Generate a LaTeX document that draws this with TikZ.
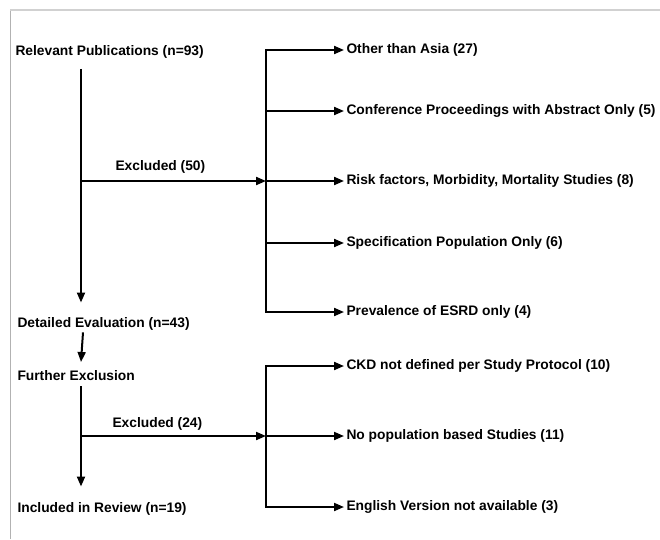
\documentclass[tikz,border=0pt]{standalone}
\usepackage{fontspec}
\setmainfont{Liberation Sans}
\usetikzlibrary{positioning,arrows.meta}

\begin{document}
\begin{tikzpicture}[x=1pt,y=-1pt,line width=2pt,>={Triangle[length=10pt,width=8pt]}]
    \tikzstyle{every node}=[inner sep=1.5,font=\fontsize{13.8}{16}\selectfont\bfseries]
    \tikzstyle{stage}=[anchor=base west]
    \tikzstyle{reason}=[anchor=west]
    \tikzstyle{frame}=[line width=1pt,black!30]
    \useasboundingbox (0,0) rectangle (660,539);
    \draw[frame] (10,539) -- (10,10);
    \draw[frame,black!18,line width=1.5pt] (10,10) -- (660,10);

    % left column
    \node[stage] (rel) at (13,55) {Relevant Publications (n=93)};
    \node[stage] (det) at (15,327) {Detailed Evaluation (n=43)};
    \node[stage] (fur) at (15,380) {Further Exclusion};
    \node[stage] (inc) at (15,512) {Included in Review (n=19)};
    \node[stage] (ex1) at (113,170) {Excluded (50)};
    \node[stage] (ex2) at (110,427) {Excluded (24)};

    % reasons
    \node[reason] (asia) at (344,50) {Other than Asia (27)};
    \node[reason] (conf) at (344,111) {Conference Proceedings with Abstract Only (5)};
    \node[reason] (risk) at (344,181) {Risk factors, Morbidity, Mortality Studies (8)};
    \node[reason] (spec) at (344,243) {Specification Population Only (6)};
    \node[reason] (esrd) at (344,312) {Prevalence of ESRD only (4)};
    \node[reason] (ckd) at (344,366) {CKD not defined per Study Protocol (10)};
    \node[reason] (nopop) at (344,436) {No population based Studies (11)};
    \node[reason] (eng) at (344,507) {English Version not available (3)};

    \coordinate (j1) at (81,181);
    \coordinate (j2) at (81,436);
    \coordinate (b1) at (266,181);
    \coordinate (b2) at (266,436);

    % main flow
    \draw[->] ([yshift=-8.5pt]rel.south -| j1) -- ([yshift=12pt]det.north -| j1);
    \draw[->] ([xshift=2pt]det.south -| j1) -- ([yshift=5.5pt]fur.north -| j1);
    \draw[->] ([yshift=-3.5pt]fur.south -| j2) -- ([yshift=13pt]inc.north -| j2);
    \draw[->] (j1) -- (b1);
    \draw[->] (j2) -- (b2);

    % brackets
    \draw[<->] (asia.west) -- (asia.west -| b1) -- (esrd.west -| b1) -- (esrd.west);
    \foreach \n in {conf,risk,spec}
        \draw[->] (\n.west -| b1) -- (\n.west);
    \draw[<->] (ckd.west) -- (ckd.west -| b2) -- (eng.west -| b2) -- (eng.west);
    \draw[->] (nopop.west -| b2) -- (nopop.west);
\end{tikzpicture}
\end{document}
